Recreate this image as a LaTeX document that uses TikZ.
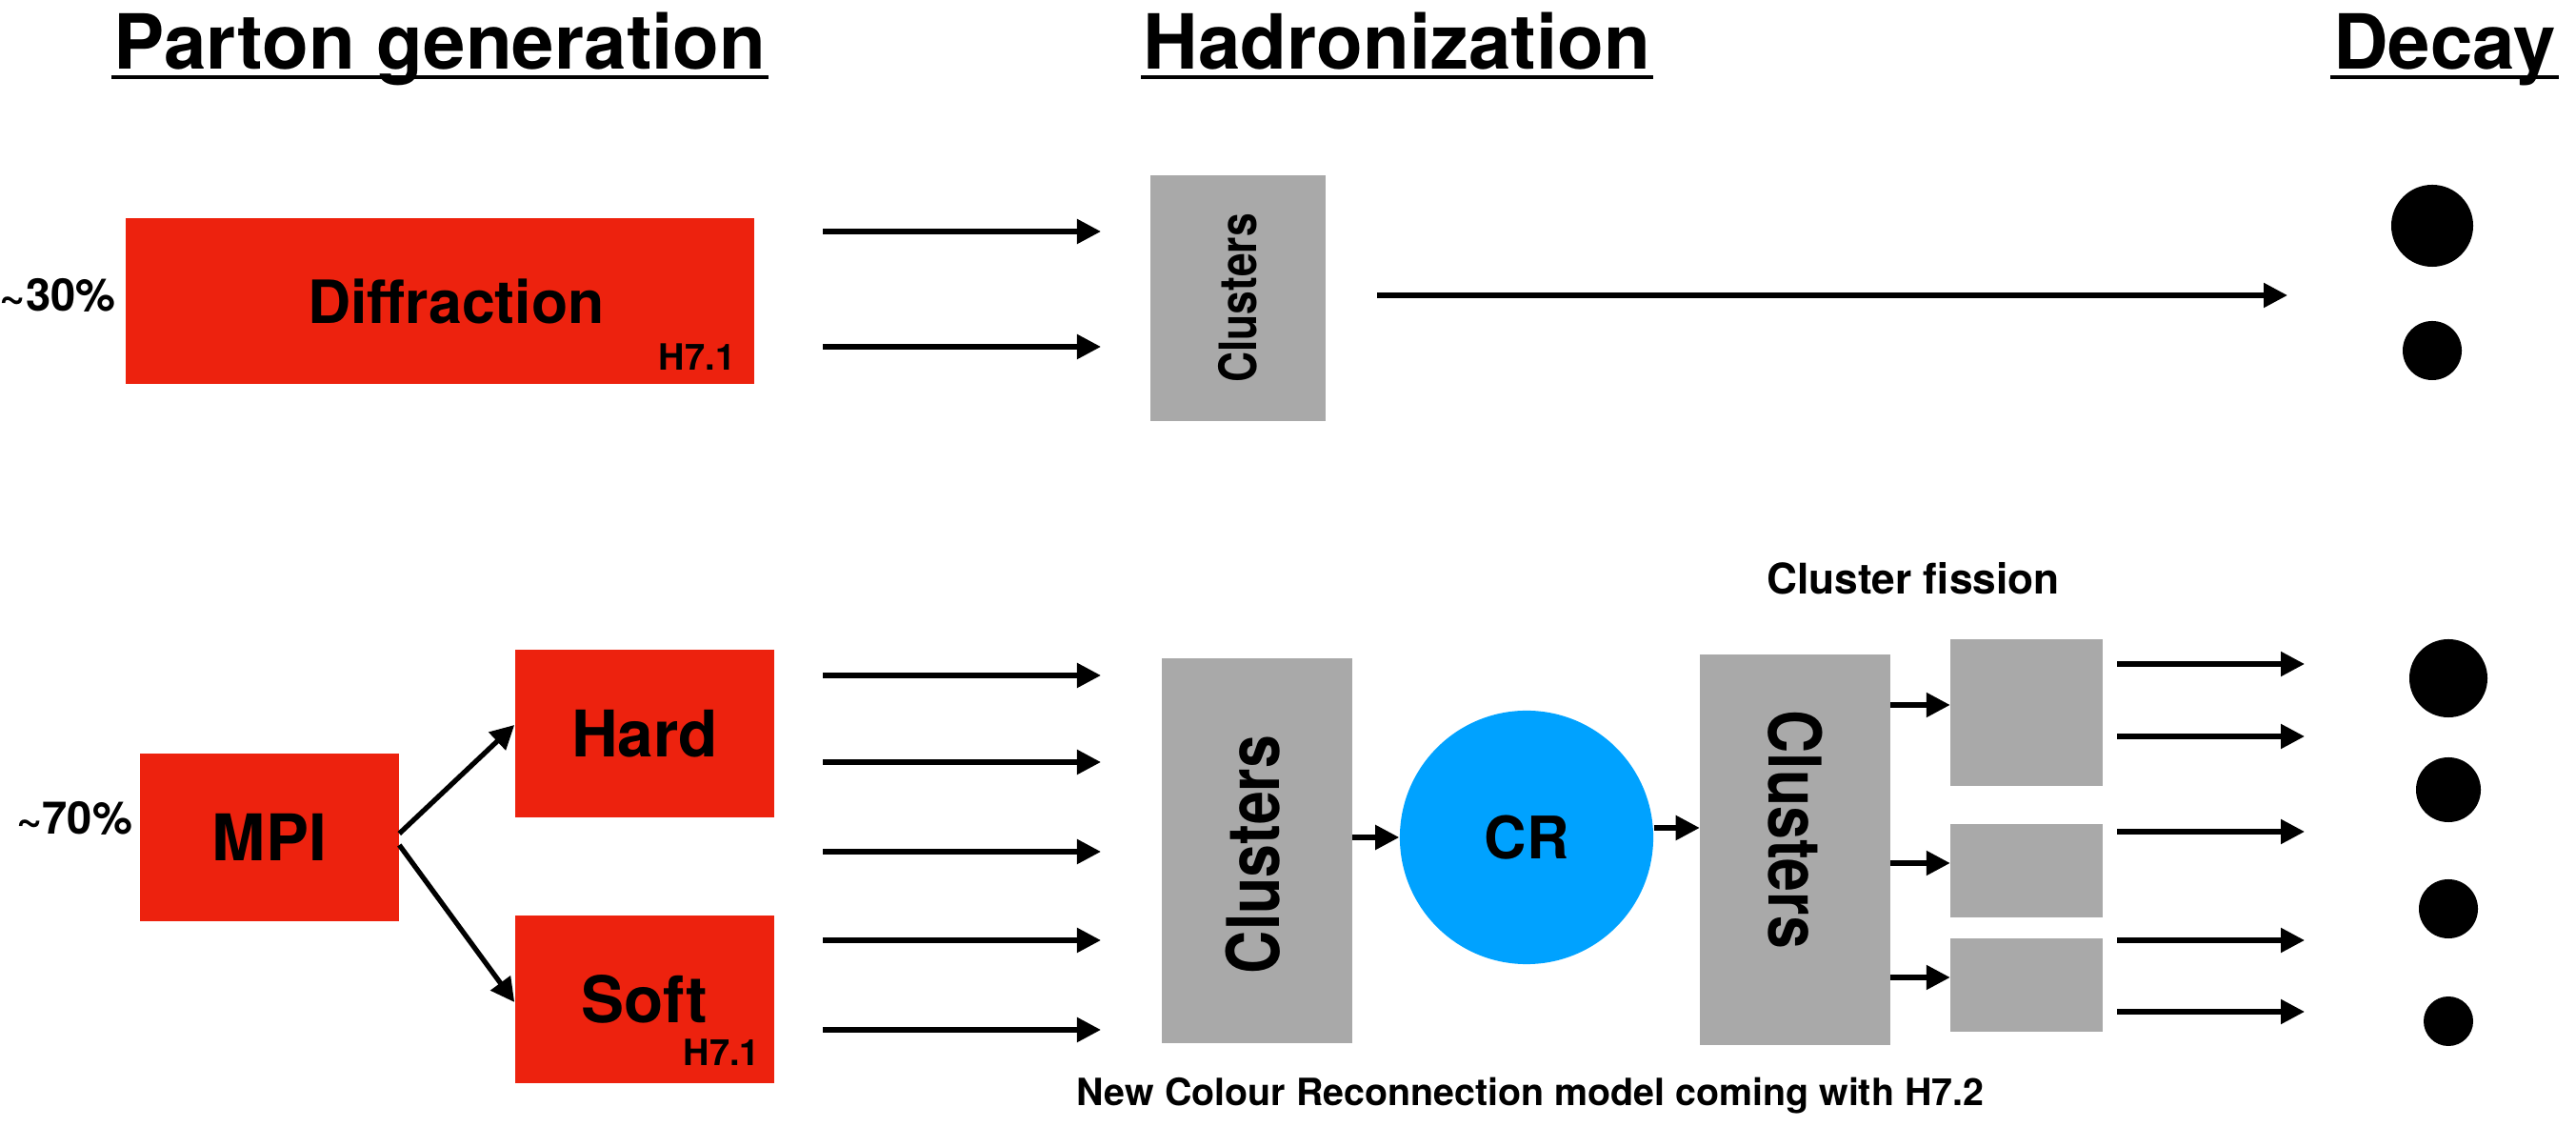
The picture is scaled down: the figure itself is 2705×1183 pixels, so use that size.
\documentclass[tikz,border=0pt]{standalone}
\usepackage{fontspec}
\setmainfont{TeX Gyre Heros}
\usepackage{graphicx}
\usetikzlibrary{arrows.meta,positioning,calc}
\definecolor{partonred}{RGB}{237,34,14}
\definecolor{clustergray}{RGB}{169,169,169}
\definecolor{crblue}{RGB}{0,162,255}
\newcommand{\hv}[1]{\bfseries\fontsize{#1pt}{#1pt}\selectfont}
\newcommand{\squeezed}[1]{\scalebox{0.82}[1]{#1}}

\begin{document}
\begin{tikzpicture}[
  x=0.01cm,y=-0.01cm,
  flow/.style={-{Triangle[length=0.25cm,width=0.25cm]},line width=1.5pt},
  parton/.style={fill=partonred,inner sep=0pt,font=\hv{19.2}},
  clu/.style={fill=clustergray,inner sep=0pt},
  fissionbox/.style={clu,minimum width=1.59cm},
  hadron/.style={circle,fill=black,inner sep=0pt},
  heading/.style={font=\hv{22.7},inner sep=0pt,anchor=base},
  tag/.style={font=\hv{10.8},inner sep=0pt},
  pct/.style={font=\hv{13.4},inner sep=0pt}
]
\useasboundingbox (0,0) rectangle (2705,1183);

% column headings
\node[heading] (tparton) at (462,73) {Parton generation};
\node[heading] (thadron) at (1467,73) {Hadronization};
\node[heading] (tdecay) at (2567,73) {Decay};
\foreach \t in {tparton,thadron,tdecay}
  \draw[line width=1.15pt] ($(\t.base west)+(-2,8)$) -- ($(\t.base east)+(2,8)$);

% diffractive events
\node[parton,font=\hv{17.8},minimum width=6.6cm,minimum height=1.74cm] (diff) at (462,316) {\hspace{0.34cm}Diffraction};
\node[tag,anchor=base east] (difftag) at ($(diff.south east)+(-20,-15)$) {H7.1};
\node[pct,left=0.09cm of diff,yshift=0.06cm] (pct30) {\textasciitilde30\%};
\node[clu,minimum width=1.84cm,minimum height=2.58cm] (cluup) at (1300,313) {};
\node[rotate=90,font=\hv{15.4},inner sep=0pt] (cluuplbl) at (cluup) {\squeezed{Clusters}};
\foreach \y [count=\i] in {243,364} {
  \coordinate (din\i) at (864,\y);
  \coordinate (dout\i) at (1156,\y);
  \draw[flow] (din\i) -- (dout\i);
}
\coordinate (longin) at (1446,310);
\coordinate (longout) at (2402,310);
\draw[flow] (longin) -- (longout);
\node[hadron,minimum size=0.86cm] (hup1) at (2554,237) {};
\node[hadron,minimum size=0.62cm] (hup2) at (2554,368) {};

% non-diffractive events: MPI
\node[parton,minimum width=2.71cm,minimum height=1.75cm] (mpi) at (283,879) {MPI};
\node[pct,left=0.07cm of mpi,yshift=0.2cm] (pct70) {\textasciitilde70\%};
\node[parton,minimum width=2.72cm,minimum height=1.75cm] (hard) at (677,770) {Hard};
\node[parton,minimum width=2.72cm,minimum height=1.75cm] (soft) at (677,1049) {Soft};
\node[tag,anchor=base east] (softtag) at ($(soft.south east)+(-15,-19)$) {H7.1};
\draw[flow] ([yshift=0.04cm]mpi.east) -- ([yshift=0.09cm]hard.west);
\draw[flow] ([yshift=-0.08cm]mpi.east) -- ([yshift=-0.03cm]soft.west);

\foreach \y [count=\i] in {709,800,894,987,1081} {
  \coordinate (pin\i) at (864,\y);
  \coordinate (pout\i) at (1156,\y);
  \draw[flow] (pin\i) -- (pout\i);
}

% clusters, colour reconnection and fission
\node[clu,minimum width=1.99cm,minimum height=4.03cm] (clua) at (1320,893) {};
\node[rotate=90,font=\hv{21.7},inner sep=0pt] (clualbl) at (1316,897) {\squeezed{Clusters}};
\node[circle,fill=crblue,minimum size=2.66cm,inner sep=0pt,font=\hv{17.5}] (cr) at (1603,879) {CR};
\node[clu,minimum width=1.99cm,minimum height=4.1cm] (club) at (1885,892) {};
\node[rotate=-90,font=\hv{21.7},inner sep=0pt] (clublbl) at (1885,871) {\squeezed{Clusters}};
\draw[flow] (clua.east |- cr.west) -- (cr.west);
\draw[flow] ($(cr.east)+(0,-10)$) -- ($(cr.east -| club.west)+(0,-10)$);

\node[font=\hv{12.6},inner sep=0pt] (fislbl) at (2009,607) {Cluster fission};
\node[fissionbox,minimum height=1.53cm] (fis1) at (2128,748) {};
\node[fissionbox,minimum height=0.97cm] (fis2) at (2128,914) {};
\node[fissionbox,minimum height=0.97cm] (fis3) at (2128,1034) {};
\foreach \f/\y in {fis1/740,fis2/906,fis3/1026}
  \draw[flow] (club.east |- 0,\y) -- (\f.west |- 0,\y);

\foreach \y [count=\i] in {697,773,873,987,1062} {
  \coordinate (hin\i) at (2223,\y);
  \coordinate (hout\i) at (2420,\y);
  \draw[flow] (hin\i) -- (hout\i);
}
\node[hadron,minimum size=0.82cm] (h1) at (2571,712) {};
\node[hadron,minimum size=0.68cm] (h2) at (2571,829) {};
\node[hadron,minimum size=0.62cm] (h3) at (2571,954) {};
\node[hadron,minimum size=0.52cm] (h4) at (2571,1072) {};

\node[font=\hv{11.2},inner sep=0pt] (note) at (1607,1150) {New Colour Reconnection model coming with H7.2};
\end{tikzpicture}
\end{document}
